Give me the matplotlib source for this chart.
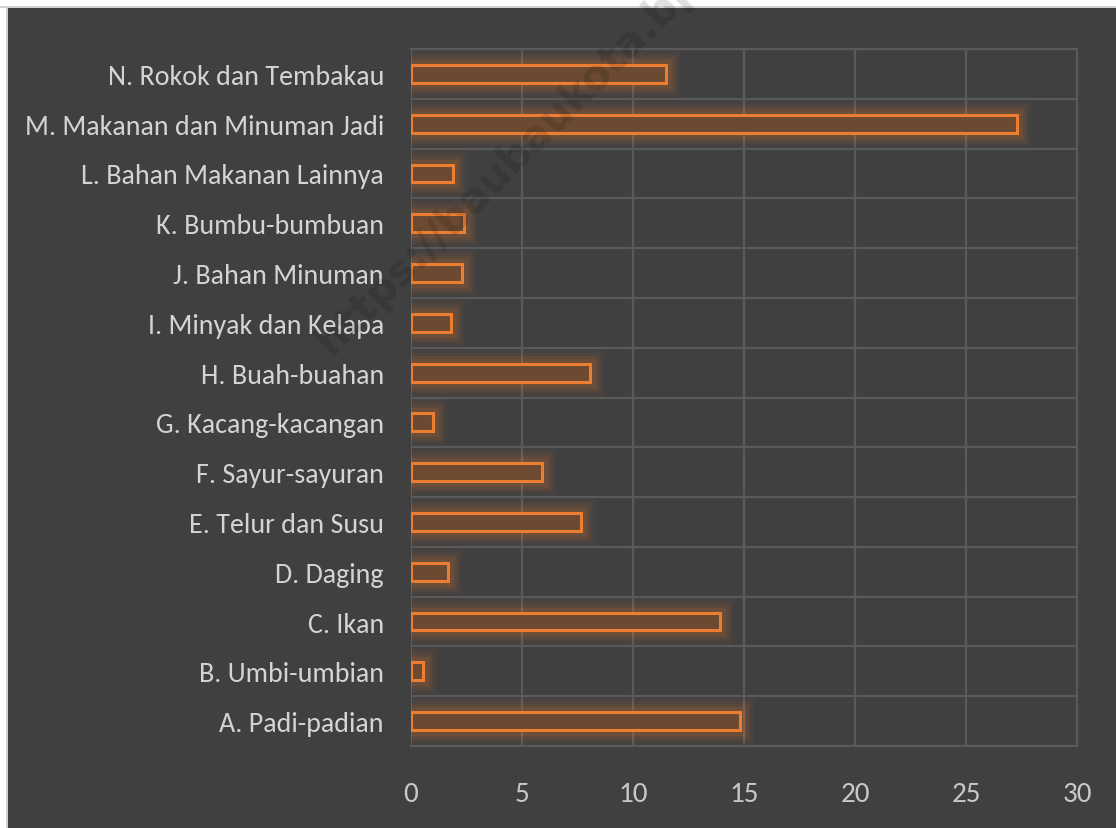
import matplotlib
matplotlib.use("Agg")
import matplotlib.pyplot as plt
import matplotlib.patheffects as pe
from matplotlib.patches import Rectangle
from matplotlib import font_manager as fm

categories = ["A. Padi-padian", "B. Umbi-umbian", "C. Ikan", "D. Daging",
              "E. Telur dan Susu", "F. Sayur-sayuran", "G. Kacang-kacangan",
              "H. Buah-buahan", "I. Minyak dan Kelapa", "J. Bahan Minuman",
              "K. Bumbu-bumbuan", "L. Bahan Makanan Lainnya",
              "M. Makanan dan Minuman Jadi", "N. Rokok dan Tembakau"]
values = [14.8, 0.55, 13.9, 1.65, 7.65, 5.9, 0.98, 8.05, 1.8, 2.3, 2.4, 1.9, 27.3, 11.5]
xticks = [0, 5, 10, 15, 20, 25, 30]

names = {f.name for f in fm.fontManager.ttflist}
fam = "DejaVu Sans"
for cand in ["Carlito", "Liberation Sans Narrow", "PT Sans Narrow", "Open Sans Condensed",
             "Roboto Condensed", "Encode Sans Condensed", "Liberation Sans"]:
    if cand in names:
        fam = cand
        break

W, H = 1116, 829
bg = "#404040"
fig = plt.figure(figsize=(W/100, H/100), dpi=100, facecolor=bg)
# light frame on top and left
fig.patches.append(Rectangle((0, 1 - 9/H), 1, 9/H, transform=fig.transFigure,
                             facecolor="white", edgecolor="none", zorder=-5))
fig.patches.append(Rectangle((0, 0), 7/W, 1, transform=fig.transFigure,
                             facecolor="white", edgecolor="none", zorder=-5))
fig.patches.append(Rectangle((0, 1 - 9/H), 1, 2/H, transform=fig.transFigure,
                             facecolor="#d0d0d0", edgecolor="none", zorder=-4))
fig.patches.append(Rectangle((6/W, 0), 2/W, 1 - 7/H, transform=fig.transFigure,
                             facecolor="#d0d0d0", edgecolor="none", zorder=-4))

ax = fig.add_axes([411/W, 1 - 747/H, (1077-411)/W, (747-50)/H])
ax.set_facecolor(bg)
ax.patch.set_alpha(0)

orange = "#ED7D31"
y = list(range(len(categories)))
glow = [pe.Stroke(linewidth=lw, foreground=orange, alpha=a) for lw, a in
        [(20, 0.045), (16, 0.06), (12, 0.08), (8, 0.11)]] + [pe.Normal()]
bars = ax.barh(y, values, height=0.36, facecolor="#6b4a31", edgecolor=orange,
               linewidth=2.2, zorder=3)
for b in bars:
    b.set_path_effects(glow)

ax.set_xlim(0, 30)
ax.set_ylim(-0.5, len(categories) - 0.5)
ax.set_xticks(xticks)
ax.set_xticklabels([str(t) for t in xticks])
ax.set_yticks(y)
ax.set_yticklabels(categories)
ax.set_yticks([i - 0.5 for i in range(len(categories) + 1)], minor=True)
grid_c = "#5a5a5a"
ax.grid(True, which="minor", axis="y", color=grid_c, linewidth=1.6, zorder=1)
ax.grid(True, which="major", axis="x", color=grid_c, linewidth=1.6, zorder=1)
ax.tick_params(axis="both", which="both", length=0)
ax.tick_params(axis="y", pad=19.5, labelsize=20.2, labelcolor="#d4d4d4")
ax.tick_params(axis="x", pad=25, labelsize=21, labelcolor="#c8c8c8")
for lab in ax.get_xticklabels() + ax.get_yticklabels():
    lab.set_fontfamily(fam)
for s in ["top", "right", "bottom"]:
    ax.spines[s].set_color(grid_c)
    ax.spines[s].set_linewidth(1.6)
ax.spines["left"].set_visible(False)

fig.text(564/W, 1 - 106/H, "https://baubaukota.bps.go.id", rotation=45, color="black",
         fontsize=30, fontweight="bold", ha="center", va="center", zorder=10, alpha=0.12)

fig.savefig("out.png", dpi=100, facecolor=bg)
